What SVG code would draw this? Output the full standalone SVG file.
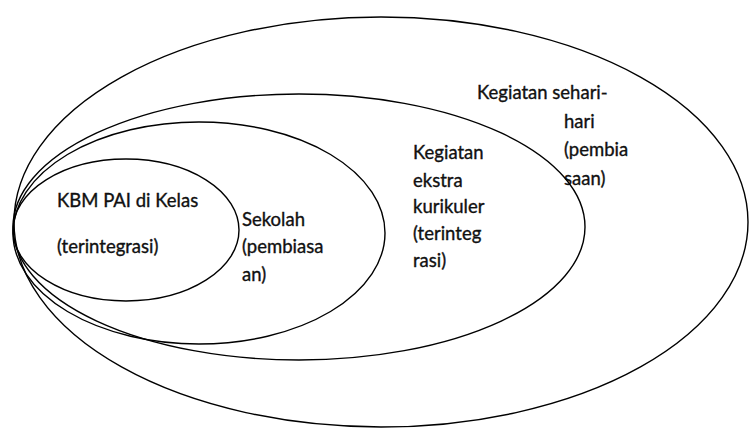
<svg xmlns="http://www.w3.org/2000/svg" width="750" height="429" viewBox="0 0 750 429">
<style>
.ring{fill:none;stroke:#000;stroke-width:1.4}
.t{font-family:Lato,"Liberation Sans",sans-serif;font-size:18.5px;fill:#111;stroke:#111;stroke-width:0.35}
</style>
<rect width="750" height="429" fill="#fff"/>
<g id="outer">
<ellipse class="ring" cx="381" cy="222" rx="367" ry="205"/>
<text class="t" x="477" y="99">Kegiatan sehari-</text>
<text class="t" x="564" y="128">hari</text>
<text class="t" x="564" y="156">(pembia</text>
<text class="t" x="564" y="185">saan)</text>
</g>
<g id="ekstra">
<ellipse class="ring" cx="299" cy="227" rx="286" ry="133"/>
<text class="t" x="413" y="159">Kegiatan</text>
<text class="t" x="413" y="187">ekstra</text>
<text class="t" x="413" y="213">kurikuler</text>
<text class="t" x="413" y="240">(terinteg</text>
<text class="t" x="413" y="267">rasi)</text>
</g>
<g id="sekolah">
<ellipse class="ring" cx="199" cy="233" rx="186" ry="111"/>
<text class="t" x="242" y="226">Sekolah</text>
<text class="t" x="242" y="253">(pembiasa</text>
<text class="t" x="242" y="281">an)</text>
</g>
<g id="kbm">
<ellipse class="ring" cx="126" cy="230" rx="113" ry="71"/>
<text class="t" x="57" y="207">KBM PAI di Kelas</text>
<text class="t" x="57" y="253">(terintegrasi)</text>
</g>
</svg>
